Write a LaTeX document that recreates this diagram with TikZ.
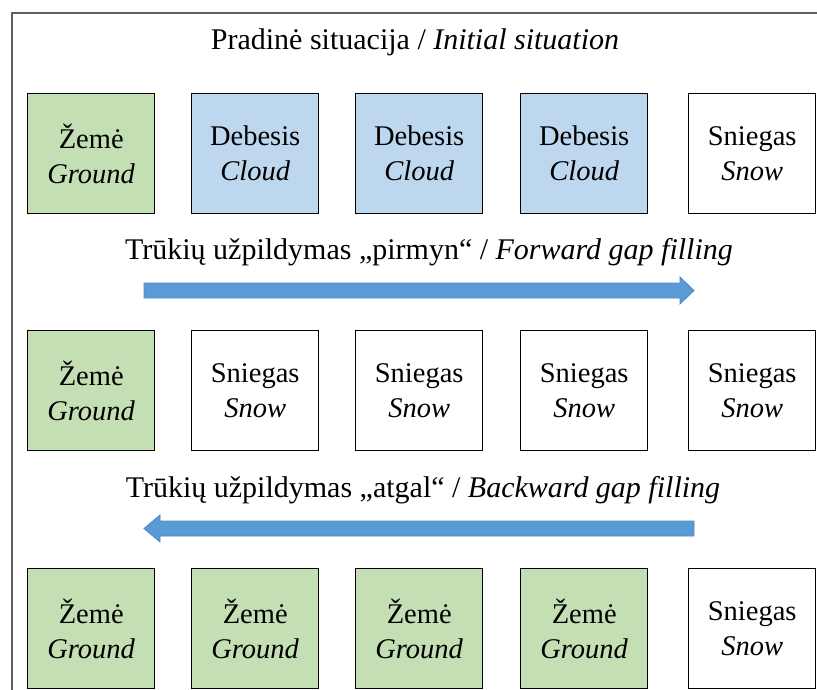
\documentclass[tikz,border=0pt]{standalone}
\usepackage{fontspec}
\setmainfont{Liberation Serif}
\definecolor{groundc}{HTML}{C5DFB4}
\definecolor{cloudc}{HTML}{BDD7EE}
\definecolor{arrowc}{HTML}{5B9BD5}
\definecolor{arrowe}{HTML}{4A88C4}
\definecolor{framec}{HTML}{606060}
\begin{document}
\begin{tikzpicture}[x=1pt,y=-1pt,
  cell/.style={draw=black,line width=1.4pt,minimum width=127pt,minimum height=120pt,inner sep=0pt,align=center,anchor=north west,font=\fontsize{28.5}{35}\selectfont},
  ground/.style={cell,fill=groundc},
  cloud/.style={cell,fill=cloudc},
  snow/.style={cell,fill=white},
  caption/.style={anchor=base,inner sep=0pt,font=\fontsize{30}{35}\selectfont},
  fatarrow/.style={fill=arrowc,draw=arrowe,line width=0.8pt}]
\useasboundingbox (0,0) rectangle (817,690);
\draw[framec,line width=1.2pt] (12,700) -- (12,13) -- (830,13);
\node[caption] (t1) at (415,50) {Pradinė situacija / \textit{Initial situation}};
% row 1
\node[ground] (a1) at (27,93) {Žemė\\\textit{Ground}};
\node[cloud] (a2) at (191,93) {Debesis\\\textit{Cloud}};
\node[cloud] (a3) at (355,93) {Debesis\\\textit{Cloud}};
\node[cloud] (a4) at (520,93) {Debesis\\\textit{Cloud}};
\node[snow] (a5) at (688,93) {Sniegas\\\textit{Snow}};
\node[caption] (t2) at (429,259) {Trūkių užpildymas „pirmyn“ / \textit{Forward gap filling}};
\draw[fatarrow] (144,283) -- (680,283) -- (680,277) -- (694,290.5) -- (680,304) -- (680,298) -- (144,298) -- cycle;
% row 2
\node[ground] (b1) at (27,330) {Žemė\\\textit{Ground}};
\node[snow] (b2) at (191,330) {Sniegas\\\textit{Snow}};
\node[snow] (b3) at (355,330) {Sniegas\\\textit{Snow}};
\node[snow] (b4) at (520,330) {Sniegas\\\textit{Snow}};
\node[snow] (b5) at (688,330) {Sniegas\\\textit{Snow}};
\node[caption] (t3) at (423,497) {Trūkių užpildymas „atgal“ / \textit{Backward gap filling}};
\draw[fatarrow] (694,521) -- (160,521) -- (160,515) -- (144,528.5) -- (160,542) -- (160,536) -- (694,536) -- cycle;
% row 3
\node[ground] (c1) at (27,568) {Žemė\\\textit{Ground}};
\node[ground] (c2) at (191,568) {Žemė\\\textit{Ground}};
\node[ground] (c3) at (355,568) {Žemė\\\textit{Ground}};
\node[ground] (c4) at (520,568) {Žemė\\\textit{Ground}};
\node[snow] (c5) at (688,568) {Sniegas\\\textit{Snow}};
\end{tikzpicture}
\end{document}
